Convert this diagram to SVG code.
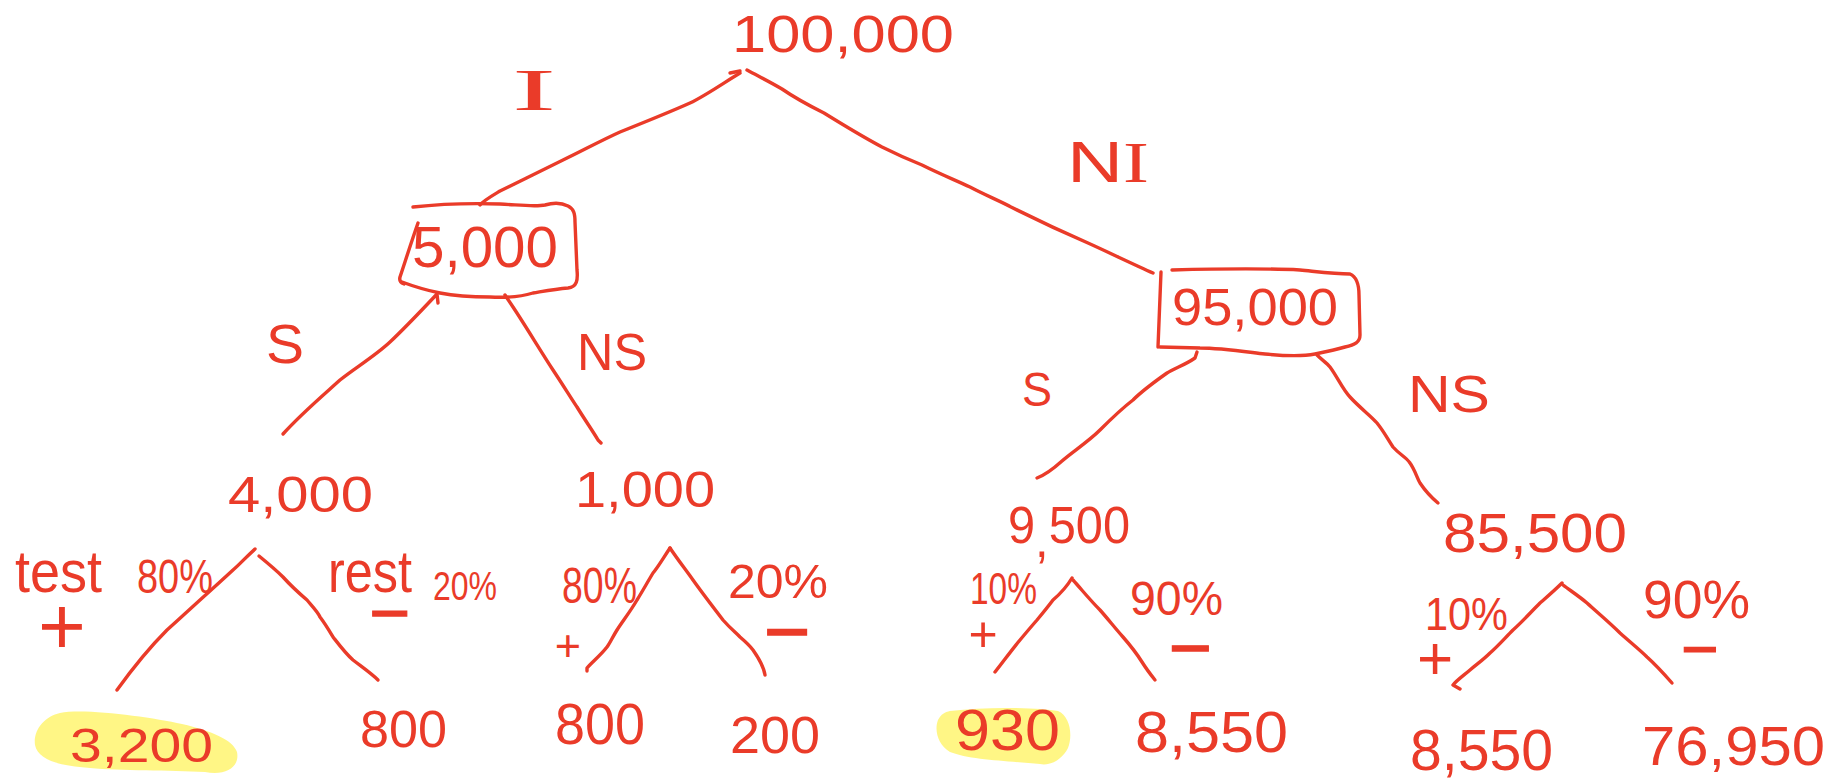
<svg xmlns="http://www.w3.org/2000/svg" width="1846" height="779" viewBox="0 0 1846 779">
<style>
.t{font-family:"Liberation Sans",Arial,sans-serif;fill:#ea3b29}
.s{font-family:"Liberation Serif","Times New Roman",serif;fill:#ea3b29}
.ln{fill:none;stroke:#ea3b29;stroke-width:3.4;stroke-linecap:round;stroke-linejoin:round}
.hl{fill:#fff470;fill-opacity:0.85}
.pm{font-family:"Liberation Sans",Arial,sans-serif;fill:#ea3b29;text-anchor:middle}
.mn{font-family:"Liberation Sans",Arial,sans-serif;fill:#ea3b29;text-anchor:middle;stroke:#ea3b29;stroke-width:1.2}
</style>
<rect width="1846" height="779" fill="#ffffff"/>

<g id="highlights">
<path class="hl" d="M60,713 C85,708 150,717 182,724 C212,731 233,740 237,752 C240,767 226,776 205,772 C170,770 120,771 90,768 C60,766 38,760 35,745 C33,730 45,716 60,713 Z"/>
<path class="hl" d="M950,711 C990,706 1040,708 1058,711 C1070,716 1073,735 1068,748 C1062,760 1050,766 1040,764 C1010,761 970,760 950,752 C938,745 934,730 938,720 C941,714 945,712 950,711 Z"/>
</g>

<g id="connectors">
<path class="ln" d="M730,73 L740,71"/>
<path class="ln" d="M740,73 C725,82 705,96 690,103 C670,112 645,122 620,132 C600,141 580,152 563,160 C545,169 520,181 500,191 C490,197 483,201 480,205"/>
<path class="ln" d="M747,70 C760,77 772,83 782,89 C795,98 810,106 824,113 C845,126 865,138 882,147 C900,156 912,161 922,165 C940,174 955,180 970,187 C985,195 1000,201 1011,207 C1035,219 1065,233 1088,243 C1110,253 1135,265 1153,273"/>
<path class="ln" d="M438,303 L437,294 C420,312 405,328 390,342 C375,356 355,368 340,380 C320,398 300,415 283,434"/>
<path class="ln" d="M505,295 L513,307 C525,325 540,350 553,370 C565,388 572,400 577,407 C585,420 594,433 598,440 L601,443"/>
<path class="ln" d="M1197,352 L1195,358 C1185,365 1175,368 1167,373 C1150,385 1140,393 1133,400 C1120,410 1110,420 1100,430 C1088,442 1072,452 1062,461 C1052,470 1045,475 1037,478"/>
<path class="ln" d="M1317,355 C1322,360 1327,363 1330,367 C1338,378 1343,390 1350,397 C1360,408 1370,415 1377,423 C1385,433 1388,440 1393,447 C1400,455 1406,457 1410,463 C1415,470 1417,478 1420,483 C1426,492 1432,498 1438,503"/>
<path class="ln" d="M255,549 C245,558 240,564 233,570 C220,582 210,591 200,600 C188,611 178,620 167,630 C150,647 130,672 117,690"/>
<path class="ln" d="M259,556 C270,565 278,572 283,577 C292,587 300,594 307,600 C313,607 318,612 320,617 C326,625 330,632 333,637 C340,646 346,654 353,660 C362,667 372,674 378,680"/>
<path class="ln" d="M670,548 C662,560 658,567 653,573 C647,583 642,592 637,600 C630,612 622,622 617,630 C612,638 610,643 607,647 C600,656 592,662 587,668 L587,671"/>
<path class="ln" d="M670,548 C678,560 686,570 693,580 C703,594 713,607 723,620 C730,628 735,632 740,637 C747,643 750,646 753,650 C760,660 764,668 765,675"/>
<path class="ln" d="M1072,578 C1066,588 1060,594 1053,600 C1047,608 1042,614 1037,620 C1030,628 1025,634 1020,640 C1010,652 1003,662 995,672"/>
<path class="ln" d="M1073,580 C1082,590 1090,600 1100,610 C1108,619 1115,628 1123,637 C1130,645 1137,654 1142,662 C1147,670 1151,675 1155,680"/>
<path class="ln" d="M1562,583 C1555,590 1548,596 1540,603 C1530,613 1522,622 1513,630 C1505,638 1498,646 1490,653 C1483,660 1477,664 1470,670 C1463,676 1457,680 1453,685 L1460,689"/>
<path class="ln" d="M1563,585 C1571,591 1580,597 1587,603 C1598,613 1610,623 1620,633 C1630,642 1640,650 1647,657 C1657,666 1665,675 1672,683"/>
</g>

<g id="edge-labels">
<text class="s" x="512" y="110" font-size="60" textLength="44" lengthAdjust="spacingAndGlyphs">I</text>
<text class="t" x="1067" y="182" font-size="58" textLength="82" lengthAdjust="spacingAndGlyphs">N<tspan class="s">I</tspan></text>
<text class="t" x="266" y="363" font-size="56" textLength="38" lengthAdjust="spacingAndGlyphs">S</text>
<text class="t" x="577" y="370" font-size="52" textLength="70" lengthAdjust="spacingAndGlyphs">NS</text>
<text class="t" x="1022" y="406" font-size="48" textLength="30" lengthAdjust="spacingAndGlyphs">S</text>
<text class="t" x="1408" y="412" font-size="52" textLength="82" lengthAdjust="spacingAndGlyphs">NS</text>
<text class="t" x="15" y="592" font-size="60" textLength="87" lengthAdjust="spacingAndGlyphs">test</text>
<text class="t" x="137" y="593" font-size="48" textLength="76" lengthAdjust="spacingAndGlyphs">80%</text>
<text class="pm" x="62" y="654" font-size="82">+</text>
<text class="t" x="328" y="592" font-size="60" textLength="84" lengthAdjust="spacingAndGlyphs">rest</text>
<text class="t" x="433" y="600" font-size="40" textLength="64" lengthAdjust="spacingAndGlyphs">20%</text>
<text class="mn" x="390" y="637" font-size="70">−</text>
<text class="t" x="562" y="603" font-size="50" textLength="75" lengthAdjust="spacingAndGlyphs">80%</text>
<text class="pm" x="568" y="661" font-size="45">+</text>
<text class="t" x="728" y="598" font-size="48" textLength="100" lengthAdjust="spacingAndGlyphs">20%</text>
<text class="mn" x="787" y="659" font-size="80">−</text>
<text class="t" x="970" y="604" font-size="44" textLength="67" lengthAdjust="spacingAndGlyphs">10%</text>
<text class="pm" x="983" y="651" font-size="50">+</text>
<text class="t" x="1130" y="615" font-size="48" textLength="93" lengthAdjust="spacingAndGlyphs">90%</text>
<text class="mn" x="1190" y="673" font-size="74">−</text>
<text class="t" x="1425" y="630" font-size="46" textLength="83" lengthAdjust="spacingAndGlyphs">10%</text>
<text class="pm" x="1435" y="679" font-size="62">+</text>
<text class="t" x="1643" y="618" font-size="54" textLength="107" lengthAdjust="spacingAndGlyphs">90%</text>
<text class="mn" x="1700" y="671" font-size="64">−</text>
</g>

<g id="node-root">
<text class="t" x="732" y="52" font-size="52" textLength="222" lengthAdjust="spacingAndGlyphs">100,000</text>
</g>

<g id="node-5000">
<path class="ln" d="M413,207 C440,204 470,203 500,204 C520,205 535,207 545,205 C552,203 560,202 568,206 C574,209 575,214 575,222 L577,270 C578,280 577,287 568,288 C555,289 545,291 533,293 C520,297 508,298 490,297 C470,297 455,296 440,293 C425,290 410,285 402,282"/>
<path class="ln" d="M418,223 C412,240 405,262 400,277 C399,281 401,283 404,284"/>
<text class="t" x="412" y="267" font-size="58" textLength="146" lengthAdjust="spacingAndGlyphs">5,000</text>
</g>

<g id="node-95000">
<path class="ln" d="M1172,270 C1210,269 1260,268 1300,270 C1320,272 1335,274 1350,274 C1357,277 1359,285 1359,295 L1360,335 C1360,342 1355,345 1345,347 C1335,350 1325,352 1315,354 C1300,357 1285,356 1265,354 C1240,351 1220,348 1200,348 L1160,347"/>
<path class="ln" d="M1161,272 L1158,347"/>
<text class="t" x="1172" y="325" font-size="52" textLength="166" lengthAdjust="spacingAndGlyphs">95,000</text>
</g>

<g id="node-4000">
<text class="t" x="228" y="512" font-size="50" textLength="145" lengthAdjust="spacingAndGlyphs">4,000</text>
</g>

<g id="node-1000">
<text class="t" x="575" y="507" font-size="50" textLength="140" lengthAdjust="spacingAndGlyphs">1,000</text>
</g>

<g id="node-9500">
<text class="t" x="1008" y="543" font-size="52" textLength="122" lengthAdjust="spacingAndGlyphs">9<tspan dy="14">,</tspan><tspan dy="-14">500</tspan></text>
</g>

<g id="node-85500">
<text class="t" x="1443" y="552" font-size="56" textLength="184" lengthAdjust="spacingAndGlyphs">85,500</text>
</g>

<g id="leaf-3200">
<text class="t" x="70" y="762" font-size="48" textLength="143" lengthAdjust="spacingAndGlyphs">3,200</text>
</g>
<g id="leaf-800a">
<text class="t" x="360" y="747" font-size="52" textLength="87" lengthAdjust="spacingAndGlyphs">800</text>
</g>
<g id="leaf-800b">
<text class="t" x="555" y="744" font-size="58" textLength="90" lengthAdjust="spacingAndGlyphs">800</text>
</g>
<g id="leaf-200">
<text class="t" x="730" y="753" font-size="52" textLength="90" lengthAdjust="spacingAndGlyphs">200</text>
</g>
<g id="leaf-930">
<text class="t" x="955" y="750" font-size="58" textLength="105" lengthAdjust="spacingAndGlyphs">930</text>
</g>
<g id="leaf-8550a">
<text class="t" x="1135" y="752" font-size="58" textLength="153" lengthAdjust="spacingAndGlyphs">8,550</text>
</g>
<g id="leaf-8550b">
<text class="t" x="1410" y="770" font-size="58" textLength="143" lengthAdjust="spacingAndGlyphs">8,550</text>
</g>
<g id="leaf-76950">
<text class="t" x="1642" y="765" font-size="56" textLength="183" lengthAdjust="spacingAndGlyphs">76,950</text>
</g>
</svg>
